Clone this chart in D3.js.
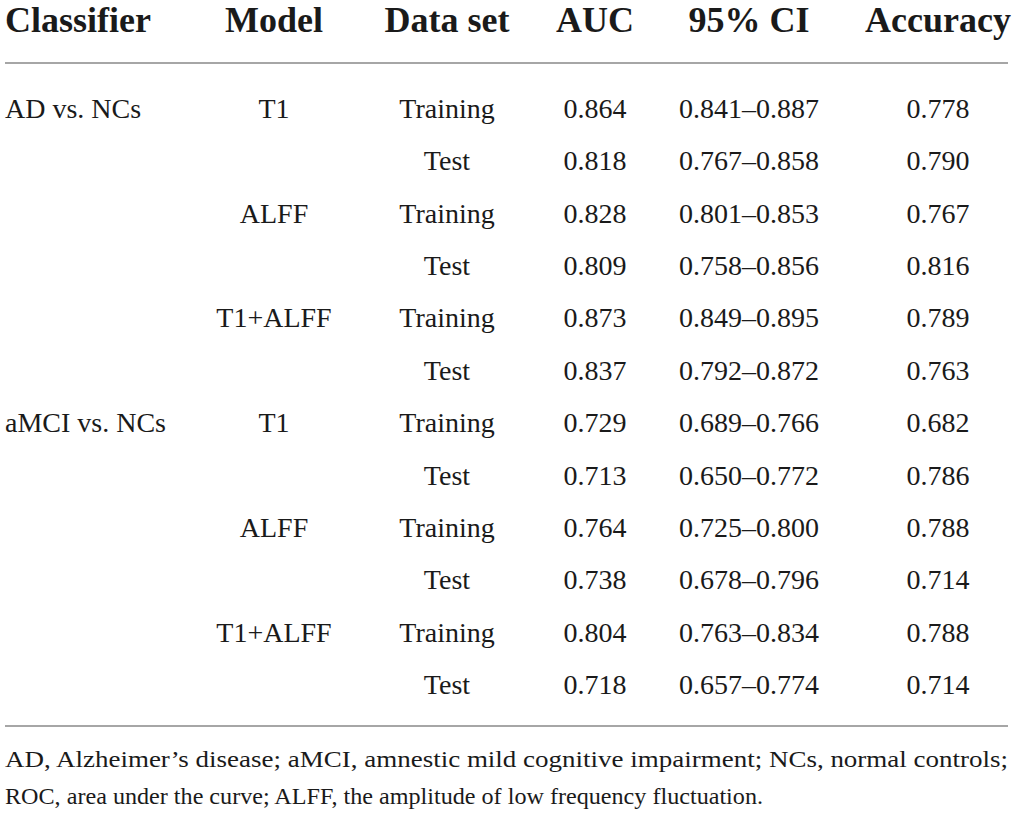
<!DOCTYPE html>
<html>
<head>
<meta charset="utf-8">
<script src="https://cdn.jsdelivr.net/npm/d3@7"></script>
<style>
  body { margin: 0; background: #fff; }
  svg text { font-family: "Liberation Serif", "DejaVu Serif", serif; fill: #1a1a1a; }
</style>
</head>
<body>
<svg id="chart"></svg>
<script>
const width = 1018;
const height = 816;

// table data
const headers = ["Classifier", "Model", "Data set", "AUC", "95% CI", "Accuracy"];
const classifiers = ["AD vs. NCs", "aMCI vs. NCs"];
const models = ["T1", "ALFF", "T1+ALFF"];
const dataSets = ["Training", "Test"];
const auc = [0.864, 0.818, 0.828, 0.809, 0.873, 0.837, 0.729, 0.713, 0.764, 0.738, 0.804, 0.718];
const ciLow = [0.841, 0.767, 0.801, 0.758, 0.849, 0.792, 0.689, 0.650, 0.725, 0.678, 0.763, 0.657];
const ciHigh = [0.887, 0.858, 0.853, 0.856, 0.895, 0.872, 0.766, 0.772, 0.800, 0.796, 0.834, 0.774];
const accuracy = [0.778, 0.790, 0.767, 0.816, 0.789, 0.763, 0.682, 0.786, 0.788, 0.714, 0.788, 0.714];
const notes = [
  "AD, Alzheimer\u2019s disease; aMCI, amnestic mild cognitive impairment; NCs, normal controls;",
  "ROC, area under the curve; ALFF, the amplitude of low frequency fluctuation."
];

const svg = d3.select("#chart")
  .attr("width", width)
  .attr("height", height);

const left = 5, right = 1008;

// column positions (Classifier is left aligned, rest centered)
const xCol = d3.scaleOrdinal()
  .domain(headers)
  .range([left, 274, 447, 595, 749, 938]);

const rowIdx = d3.range(auc.length);
const yRow = d3.scaleBand()
  .domain(rowIdx)
  .range([82.8, 82.8 + 52.36 * auc.length]);

const fmt = d3.format(".3f");

// build rows
const rows = rowIdx.map(i => ({
  classifier: i % 6 === 0 ? classifiers[Math.floor(i / 6)] : "",
  model: i % 2 === 0 ? models[Math.floor(i / 2) % 3] : "",
  dataSet: dataSets[i % 2],
  auc: fmt(auc[i]),
  ci: fmt(ciLow[i]) + "\u2013" + fmt(ciHigh[i]),
  acc: fmt(accuracy[i]),
  i: i
}));

// header
svg.append("g").selectAll("text")
  .data(headers)
  .enter()
  .append("text")
  .attr("x", d => xCol(d))
  .attr("y", 32)
  .attr("text-anchor", (d, i) => i === 0 ? "start" : "middle")
  .attr("font-size", 36)
  .attr("font-weight", "bold")
  .text(d => d);

// rules
svg.append("g").selectAll("line")
  .data([63, 726])
  .enter()
  .append("line")
  .attr("x1", left)
  .attr("x2", right)
  .attr("y1", d => d)
  .attr("y2", d => d)
  .attr("stroke", "#a6a6a6")
  .attr("stroke-width", 2);

// body cells
const keys = ["classifier", "model", "dataSet", "auc", "ci", "acc"];
const body = svg.append("g");
rows.forEach(r => {
  keys.forEach((k, j) => {
    if (!r[k]) return;
    body.append("text")
      .attr("x", xCol(headers[j]))
      .attr("y", yRow(r.i) + yRow.bandwidth() / 2 + 9)
      .attr("text-anchor", j === 0 ? "start" : "middle")
      .attr("font-size", 28)
      .text(r[k]);
  });
});

// footnote
svg.append("g").selectAll("text")
  .data(notes)
  .enter()
  .append("text")
  .attr("x", left)
  .attr("y", (d, i) => 767 + i * 37)
  .attr("font-size", 24)
  .attr("textLength", (d, i) => i === 0 ? right - left : 758)
  .attr("lengthAdjust", "spacingAndGlyphs")
  .text(d => d);
</script>
</body>
</html>
